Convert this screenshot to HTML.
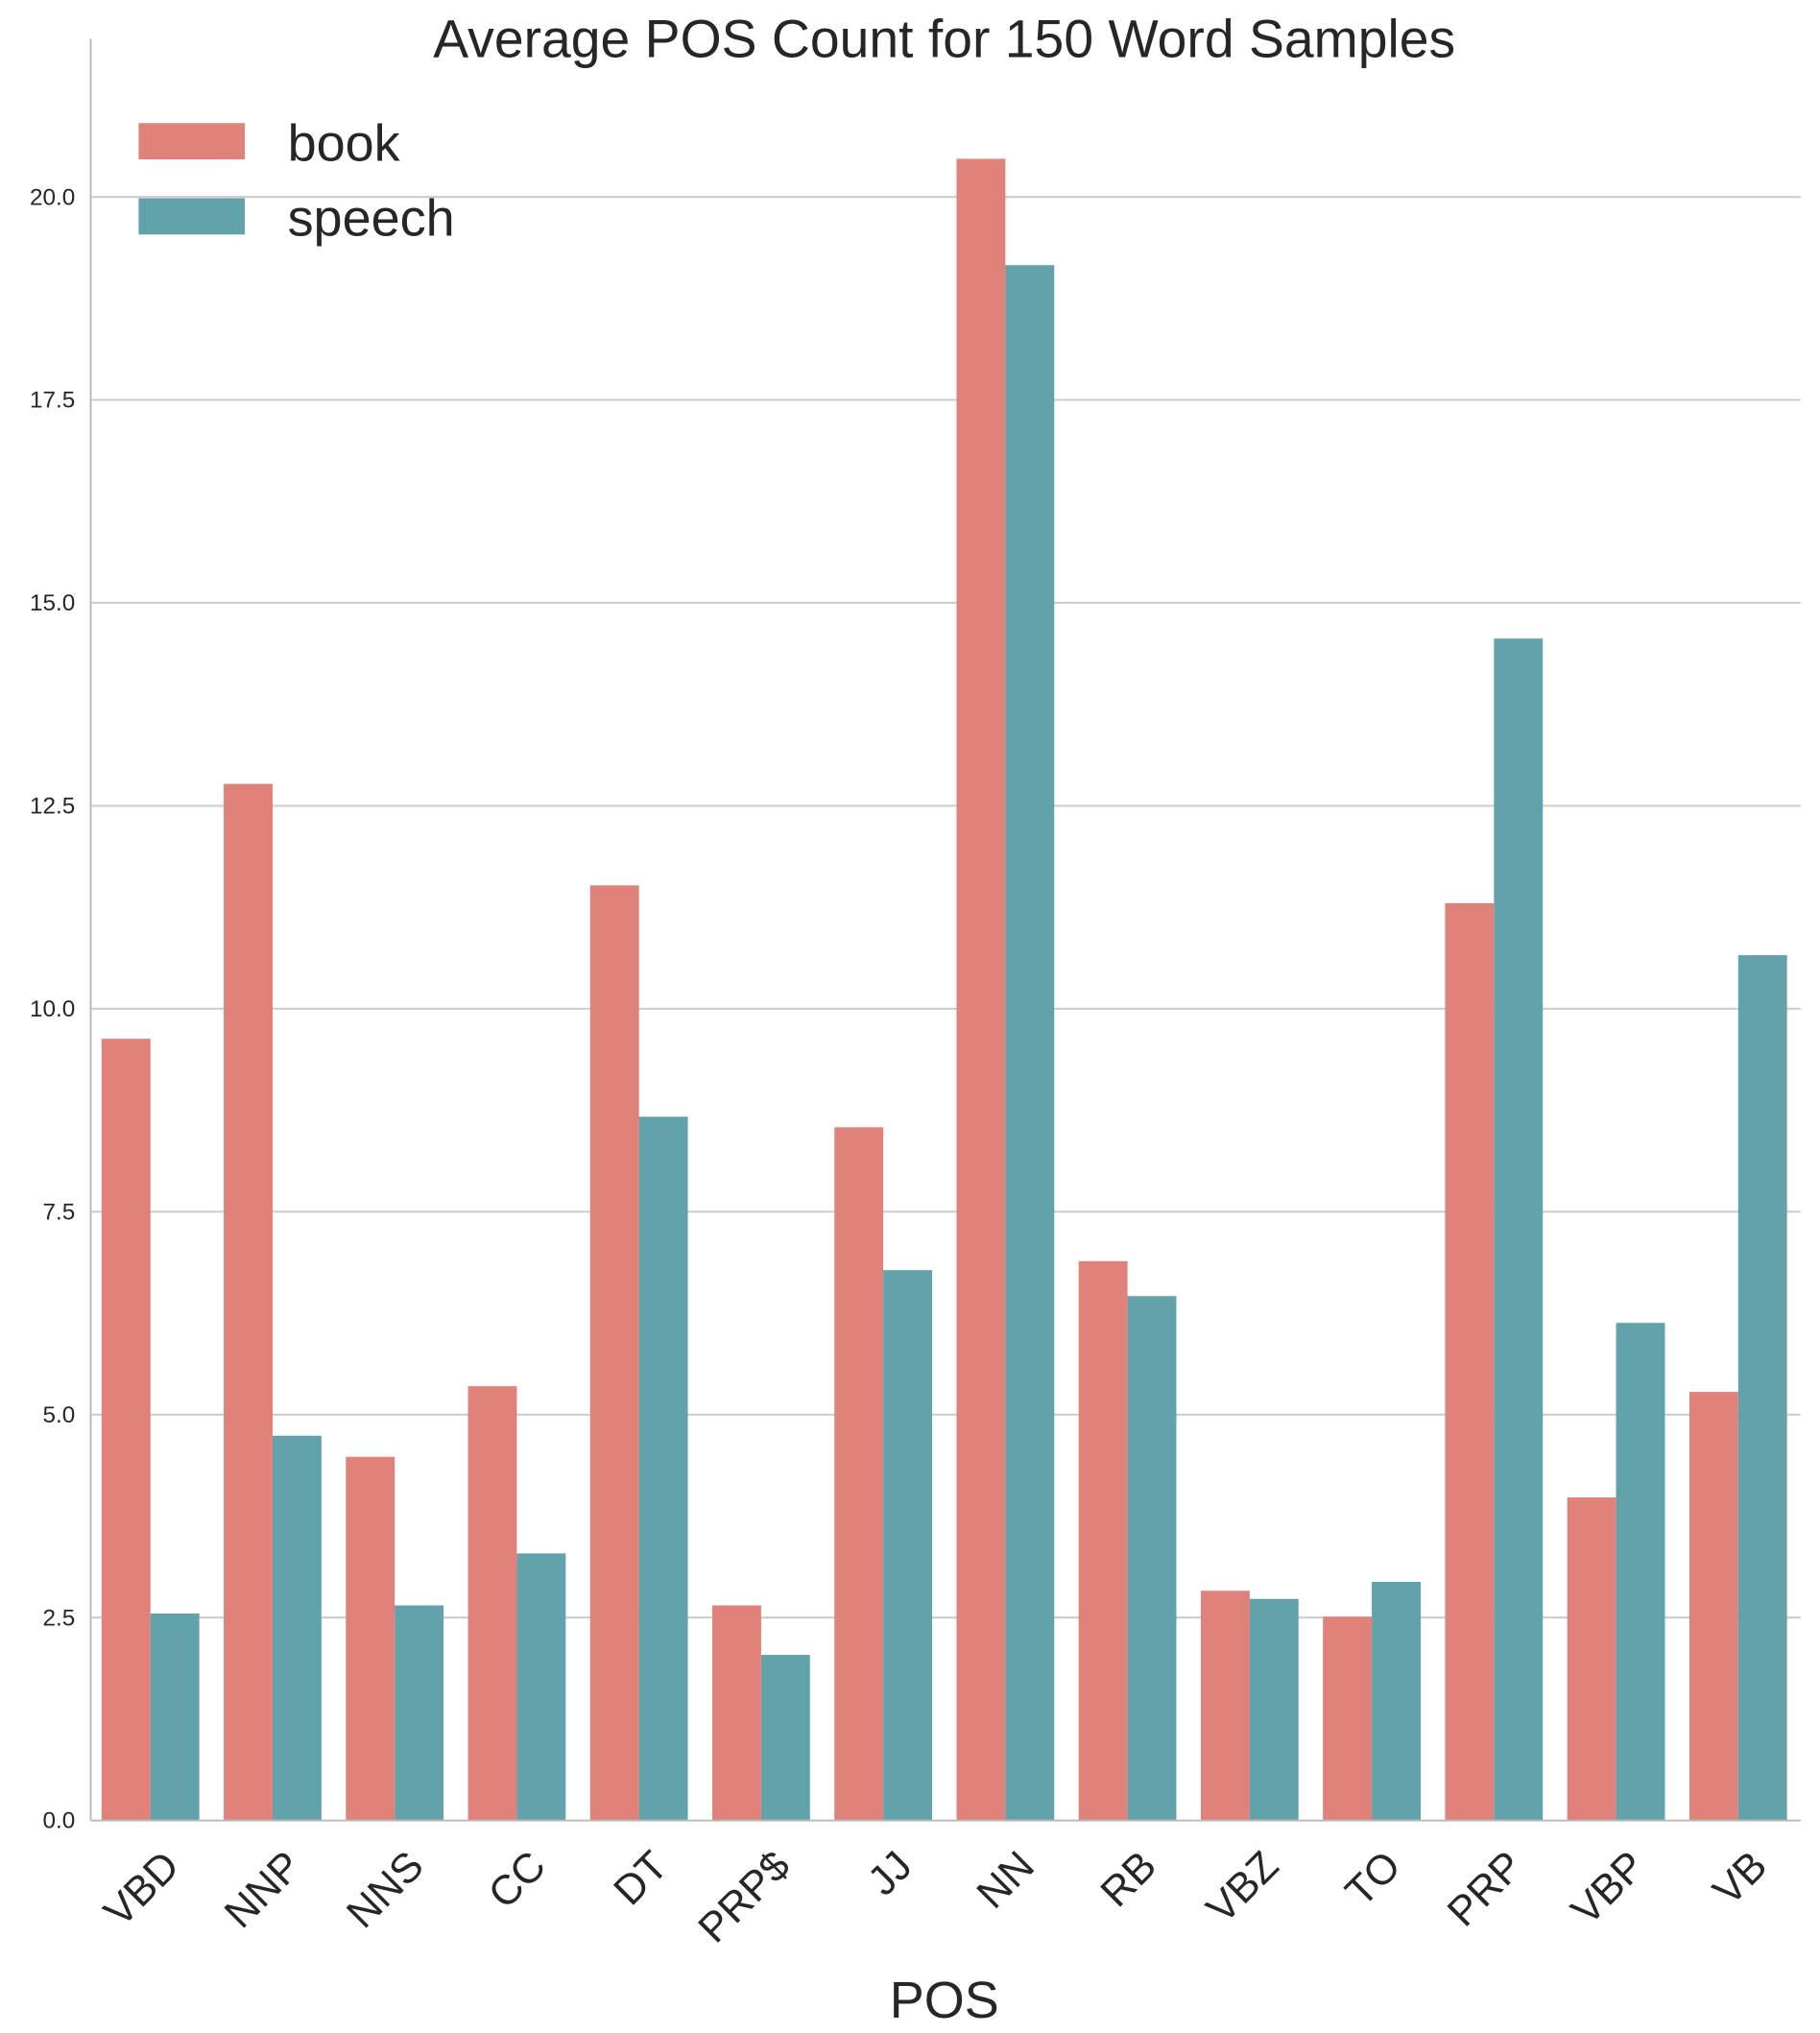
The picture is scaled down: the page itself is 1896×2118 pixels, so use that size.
<!DOCTYPE html>
<html><head><meta charset="utf-8"><style>
html,body{margin:0;padding:0;background:#fff;}
svg{display:block;font-family:"Liberation Sans",Arial,sans-serif;}
</style></head><body>
<svg id="chart" width="1896" height="2118" viewBox="0 0 1405 1569" preserveAspectRatio="none" xmlns="http://www.w3.org/2000/svg">
<rect x="0" y="0" width="1405" height="1569" fill="#fff"/>
<text x="729" y="44" text-anchor="middle" font-size="41" fill="#262626">Average POS Count for 150 Word Samples</text>
<g id="grid"></g>
<g id="bars"></g>
<line x1="70" y1="30" x2="70" y2="1405" stroke="#bbb" stroke-width="1.5"/>
<line x1="70" y1="1405" x2="1390" y2="1405" stroke="#bbb" stroke-width="1.5"/>
<g id="yticks"></g>
<g id="xticks"></g>
<text x="729" y="1557" text-anchor="middle" font-size="40" fill="#262626">POS</text>
<g>
<rect x="107" y="95" width="82" height="28" fill="#e0817a"/>
<text x="222" y="124" font-size="40" fill="#262626">book</text>
<rect x="107" y="153" width="82" height="28" fill="#62a2ab"/>
<text x="222" y="182" font-size="40" fill="#262626">speech</text>
</g>
</svg>
<script>
const categories = ["VBD","NNP","NNS","CC","DT","PRP$","JJ","NN","RB","VBZ","TO","PRP","VBP","VB"];
const bookValues = [9.63,12.77,4.48,5.35,11.52,2.65,8.54,20.47,6.89,2.83,2.51,11.3,3.98,5.28];
const speechValues = [2.55,4.74,2.65,3.29,8.67,2.04,6.78,19.16,6.46,2.73,2.94,14.56,6.13,10.66];
const yTicks = [0,2.5,5,7.5,10,12.5,15,17.5,20];
const yTickLabels = ["0.0","2.5","5.0","7.5","10.0","12.5","15.0","17.5","20.0"];

const NS="http://www.w3.org/2000/svg";
const x0=69, x1=1389, y0=1405, yUnit=(1405-152)/20;
const band=(x1-x0)/categories.length;
function yScale(v){return y0-v*yUnit;}
function xCenter(i){return x0+band*(i+0.5);}
function mk(tag,attrs,parent){const e=document.createElementNS(NS,tag);for(const k in attrs)e.setAttribute(k,attrs[k]);parent.appendChild(e);return e;}
const grid=document.getElementById('grid'),bars=document.getElementById('bars'),yt=document.getElementById('yticks'),xt=document.getElementById('xticks');
yTicks.forEach((v,i)=>{
  const y=yScale(v);
  if(v>0){const l=mk('line',{x1:70,x2:1390,y1:y,y2:y,stroke:'#cccccc','stroke-width':1.5},grid);
  
  }
  const t=mk('text',{x:58,y:y+6,'text-anchor':'end','font-size':18,fill:'#262626'},yt);
  t.textContent=yTickLabels[i];
  
  
});
const bw=band*0.4;
categories.forEach((c,i)=>{
  const cx=xCenter(i);
  const b=mk('rect',{x:cx-bw,y:yScale(bookValues[i]),width:bw,height:y0-yScale(bookValues[i]),fill:'#e0817a'},bars);
  
  
  const s=mk('rect',{x:cx,y:yScale(speechValues[i]),width:bw,height:y0-yScale(speechValues[i]),fill:'#62a2ab'},bars);
  
  
  const tx=cx+24, ty=1442;
  const t=mk('text',{x:tx,y:ty,'text-anchor':'end','font-size':32,fill:'#262626',transform:'rotate(-45 '+tx+' '+ty+')'},xt);
  t.textContent=c;
  
  
});
</script>
</body></html>
